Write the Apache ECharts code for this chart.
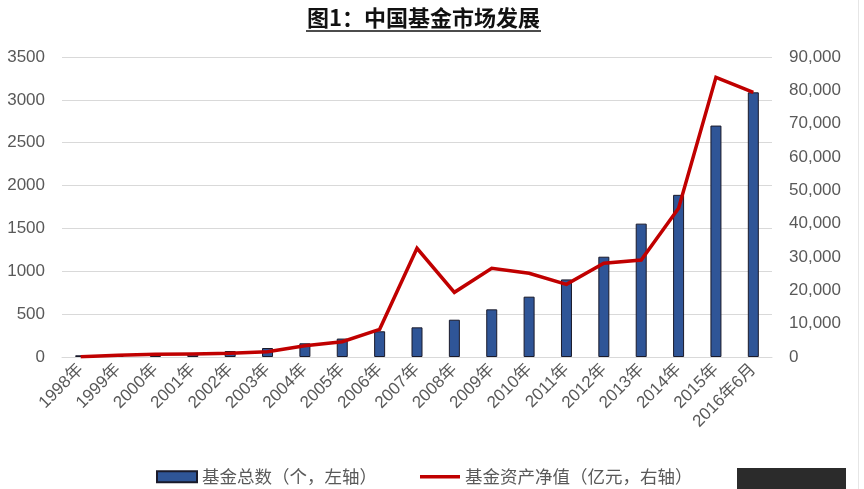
<!DOCTYPE html>
<html>
<head>
<meta charset="utf-8">
<script src="https://cdn.jsdelivr.net/npm/echarts@6/dist/echarts.min.js"></script>
<style>
html,body{margin:0;padding:0;background:#fff;}
#chart{width:864px;height:489px;}
</style>
</head>
<body>
<div id="chart"></div>
<script>
var categories = ['1998年','1999年','2000年','2001年','2002年','2003年','2004年','2005年','2006年','2007年','2008年','2009年','2010年','2011年','2012年','2013年','2014年','2015年','2016年6月'];
var fundCount = [20, 25, 35, 45, 70, 105, 160, 215, 300, 346, 435, 556, 704, 905, 1170, 1556, 1892, 2700, 3088];
var netAsset = [100, 500, 800, 900, 1100, 1600, 3400, 4600, 8300, 32600, 19400, 26600, 25100, 21800, 28100, 29100, 44600, 83900, 79400];
var leftTicks = {min: 0, max: 3500, interval: 500};
var rightTicks = {min: 0, max: 90000, interval: 10000};
var titleText = '图1：中国基金市场发展';
var seriesNames = ['基金总数（个，左轴）', '基金资产净值（亿元，右轴）'];

var chart = echarts.init(document.getElementById('chart'), null, {renderer: 'canvas'});
var labelFont = "'Liberation Sans', 'Noto Sans CJK SC', sans-serif";
var cjkFont = "'Noto Sans CJK SC', sans-serif";
chart.setOption({
  animation: false,
  backgroundColor: '#ffffff',
  title: {
    text: titleText,
    left: 307,
    top: 7,
    padding: 0,
    textStyle: {fontFamily: cjkFont, fontSize: 22, fontWeight: 'bold', color: '#111111'}
  },
  graphic: [
    {type: 'line', shape: {x1: 306, y1: 31, x2: 541, y2: 31}, style: {stroke: '#111111', lineWidth: 1.5}},
    {type: 'rect', shape: {x: 737, y: 468, width: 109, height: 21}, style: {fill: '#2b2b2b'}},
    {type: 'line', shape: {x1: 858.5, y1: 0, x2: 858.5, y2: 489}, style: {stroke: '#e6e6e6', lineWidth: 1}}
  ],
  legend: {
    top: 463,
    left: 151,
    itemWidth: 40,
    itemHeight: 11,
    itemGap: 43,
    textStyle: {fontFamily: cjkFont, fontSize: 17.5, color: '#595959'},
    data: [
      {name: seriesNames[0], icon: 'rect'},
      {name: seriesNames[1], icon: 'path://M0,0L40,0L40,3.5L0,3.5Z'}
    ]
  },
  grid: {left: 62, right: 92, top: 57, bottom: 132, containLabel: false},
  xAxis: {
    type: 'category',
    data: categories,
    axisLine: {lineStyle: {color: '#d9d9d9', width: 1}},
    axisTick: {show: false},
    axisLabel: {rotate: 45, margin: 10, interval: 0, fontFamily: labelFont, fontSize: 17, color: '#595959'}
  },
  yAxis: [
    {
      type: 'value',
      min: leftTicks.min, max: leftTicks.max, interval: leftTicks.interval,
      axisLine: {show: false}, axisTick: {show: false},
      splitLine: {lineStyle: {color: '#d9d9d9', width: 1}},
      axisLabel: {
        margin: 17, fontFamily: labelFont, fontSize: 17, color: '#595959',
        formatter: function (v) { return String(v); }
      }
    },
    {
      type: 'value',
      min: rightTicks.min, max: rightTicks.max, interval: rightTicks.interval,
      axisLine: {show: false}, axisTick: {show: false},
      splitLine: {show: false},
      axisLabel: {
        margin: 17, fontFamily: labelFont, fontSize: 17, color: '#595959',
        formatter: function (v) { return v.toLocaleString('en-US'); }
      }
    }
  ],
  series: [
    {
      name: seriesNames[0],
      type: 'bar',
      yAxisIndex: 0,
      data: fundCount,
      barWidth: 11,
      itemStyle: {color: '#2F5597', borderColor: '#1a1a2a', borderWidth: 1}
    },
    {
      name: seriesNames[1],
      type: 'line',
      yAxisIndex: 1,
      data: netAsset,
      symbol: 'none',
      z: 5,
      lineStyle: {color: '#C00000', width: 3.5, join: 'miter'},
      itemStyle: {color: '#C00000'}
    }
  ]
});
</script>
</body>
</html>
